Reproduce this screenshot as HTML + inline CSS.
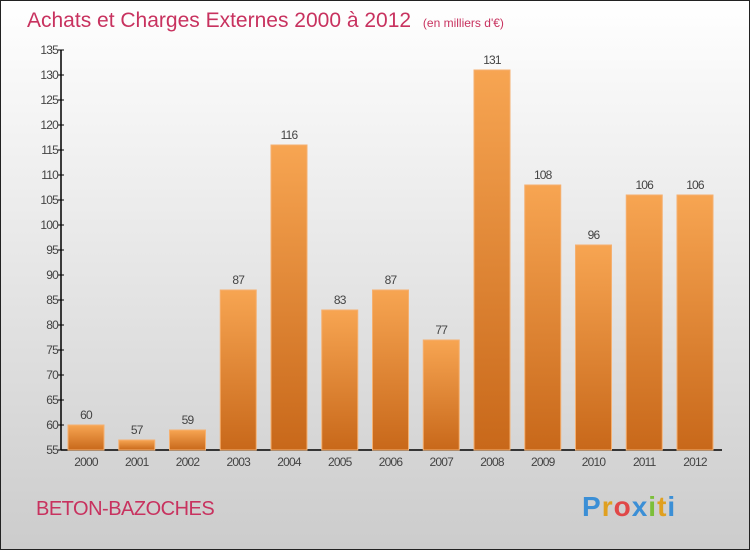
<!DOCTYPE html>
<html><head><meta charset="utf-8">
<style>
html,body{margin:0;padding:0}
body{width:750px;height:550px;overflow:hidden;font-family:"Liberation Sans",sans-serif}
</style></head>
<body>
<svg width="750" height="550" xmlns="http://www.w3.org/2000/svg">
<defs>
<linearGradient id="bg" x1="0" y1="0" x2="0" y2="1">
<stop offset="0" stop-color="#ffffff"/><stop offset="1" stop-color="#cccccc"/>
</linearGradient>
<linearGradient id="bar" x1="0" y1="0" x2="0" y2="1">
<stop offset="0" stop-color="#f7a552"/><stop offset="1" stop-color="#c8681a"/>
</linearGradient>
</defs>
<rect x="0.5" y="0.5" width="749" height="549" fill="url(#bg)" stroke="#222" stroke-width="1"/>
<text x="27" y="27" font-size="21" fill="#c8325f">Achats et Charges Externes 2000 à 2012 <tspan font-size="12" dx="6">(en milliers d'€)</tspan></text>
<g id="axes"></g>
<g id="bars"></g>
<text x="36" y="515" font-size="20" fill="#c8325f" letter-spacing="-0.5">BETON-BAZOCHES</text>
<g font-size="28" font-weight="bold">
<text x="582" y="516" letter-spacing="1"><tspan fill="#3b8fd6">P</tspan><tspan fill="#e0a020">r</tspan><tspan fill="#e04848">o</tspan><tspan fill="#3b8fd6">x</tspan><tspan fill="#7cbf3a">i</tspan><tspan fill="#e0a020">t</tspan><tspan fill="#3b8fd6">i</tspan></text>
</g>
</svg>
<script>
const categories=["2000","2001","2002","2003","2004","2005","2006","2007","2008","2009","2010","2011","2012"];
const values=[60,57,59,87,116,83,87,77,131,108,96,106,106];
const yTicks=[55,60,65,70,75,80,85,90,95,100,105,110,115,120,125,130,135];
const NS="http://www.w3.org/2000/svg";
const yMin=55,yMax=135,plotTop=50,plotBot=450,x0=61,step=50.75,bw=36;
const yS=v=>plotBot-(v-yMin)/(yMax-yMin)*(plotBot-plotTop);
const xc=i=>86+i*step;
function mk(t,a,p){const e=document.createElementNS(NS,t);for(const k in a)e.setAttribute(k,a[k]);p.appendChild(e);return e;}
const ax=document.getElementById('axes'),bg=document.getElementById('bars');
yTicks.forEach(v=>{
 const l=mk('line',{x1:x0-3,x2:x0+3,y1:yS(v),y2:yS(v),stroke:'#000','stroke-width':1},ax);
 
 
 const t=mk('text',{x:x0-3,y:yS(v)+4,'text-anchor':'end','font-size':12,fill:'#444','letter-spacing':'-0.8'},ax);
 t.textContent=v;
 
 
});
categories.forEach((c,i)=>{
 const r=mk('rect',{x:xc(i)-bw/2,y:yS(values[i]),width:bw,height:plotBot-yS(values[i]),fill:'url(#bar)',stroke:'#f5b070','stroke-width':1},bg);
 
 
 const v=mk('text',{x:xc(i),y:yS(values[i])-6,'text-anchor':'middle','font-size':12,fill:'#444','letter-spacing':'-0.8'},bg);
 v.textContent=values[i];
 
 
 const t=mk('text',{x:xc(i),y:plotBot+16,'text-anchor':'middle','font-size':12,fill:'#444','letter-spacing':'-0.8'},ax);
 t.textContent=c;
 
 
});
const ya=mk('line',{x1:x0,x2:x0,y1:plotTop,y2:plotBot,stroke:'#000','stroke-width':1.5},ax);


const xa=mk('line',{x1:x0,x2:722,y1:plotBot,y2:plotBot,stroke:'#000','stroke-width':1.5},ax);


</script>
</body></html>
